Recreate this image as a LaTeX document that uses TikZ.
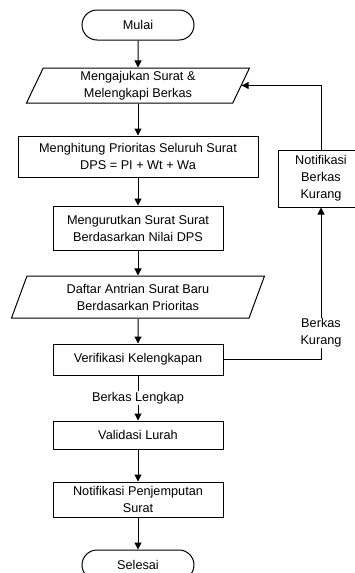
\documentclass[tikz,border=0pt]{standalone}
\usepackage{fontspec}
\setmainfont{Liberation Sans}
\usetikzlibrary{shapes.geometric, arrows.meta}

\begin{document}
\begin{tikzpicture}[
    x=1pt, y=-1pt,
    font=\fontsize{12.7}{17}\selectfont,
    every node/.style={align=center, inner sep=2pt},
    process/.style={draw, rectangle, line width=1pt, minimum width=170pt, minimum height=30pt},
    terminal/.style={draw, rectangle, rounded corners=15pt, line width=1pt, minimum width=112pt, minimum height=30pt},
    io/.style={draw, trapezium, trapezium left angle=63, trapezium right angle=117, trapezium stretches body, line width=1pt, minimum height=35pt},
    flow/.style={-{Triangle[length=7pt, width=7pt]}, line width=1pt},
    cond/.style={fill=white, inner sep=1pt}
]
   \useasboundingbox (0,0) rectangle (355,573);

   % Main column
   \node[terminal] (start) at (138,25) {Mulai};
   \node[io, minimum width=223pt] (in1) at (138,85.5) {Mengajukan Surat \&\\Melengkapi Berkas};
   \node[process, minimum width=240pt, minimum height=41pt] (hitung) at (138,156.5) {Menghitung Prioritas Seluruh Surat\\DPS = PI + Wt + Wa};
   \node[process, minimum height=44pt] (urut) at (138,228) {Mengurutkan Surat Surat\\Berdasarkan Nilai DPS};
   \node[io, minimum width=253pt, minimum height=42pt] (in2) at (138,297) {Daftar Antrian Surat Baru\\Berdasarkan Prioritas};
   \node[process, minimum height=31pt] (verif) at (138,359.5) {Verifikasi Kelengkapan};
   \node[process, minimum height=28pt] (validasi) at (138,435) {Validasi Lurah};
   \node[process, minimum height=35pt] (jemput) at (138,499.5) {Notifikasi Penjemputan\\Surat};
   \node[terminal] (stop) at (138,565) {Selesai};

   % Side box
   \node[process, minimum width=86pt, minimum height=57pt] (notif) at (321,178.5) {Notifikasi\\Berkas\\Kurang};

   % Flow
   \draw[flow] (start) -- (in1);
   \draw[flow] (in1) -- (hitung);
   \draw[flow] (hitung) -- (urut);
   \draw[flow] (urut) -- (in2);
   \draw[flow] (in2) -- (verif);
   \draw[flow] (verif) -- node[cond] {Berkas Lengkap} (validasi);
   \draw[flow] (validasi) -- (jemput);
   \draw[flow] (jemput) -- (stop);

   % Loop back
   \draw[flow] (verif.east) -| node[cond, pos=0.587] {Berkas\\Kurang} (notif.south);
   \draw[flow] (notif.north) |- (in1.east);

\end{tikzpicture}
\end{document}
